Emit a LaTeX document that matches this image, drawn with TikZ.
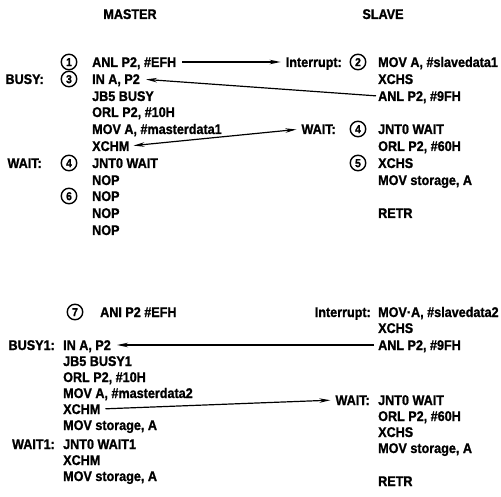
\documentclass[tikz,border=0pt]{standalone}
\usepackage{fontspec}
\newfontfamily\codefont{Liberation Sans}[FakeStretch=0.9,FakeBold=1.2]
\usetikzlibrary{arrows.meta}
\tikzstyle{every node}=[anchor=west,inner sep=0pt,text height=10pt,text depth=0pt,font=\codefont\bfseries\fontsize{14}{16}\selectfont]
\tikzstyle{num}=[draw=black,circle,line width=1.4pt,anchor=center,minimum size=15.5pt,text height=8.3pt,font=\codefont\bfseries\fontsize{11.5}{13}\selectfont]
\tikzstyle{lbl}=[anchor=east]
\tikzstyle{link}=[line width=1.2pt,-{Stealth[length=11pt,width=4.5pt]}]
\tikzstyle{bothlink}=[line width=1.2pt,{Stealth[length=11pt,width=4.5pt]}-{Stealth[length=11pt,width=4.5pt]}]

\begin{document}
\begin{tikzpicture}[x=1pt,y=-1pt]
  \useasboundingbox (0,0) rectangle (501,497);
  \node[anchor=center] (master) at (130,14) {MASTER};
  \node[anchor=center] (slave) at (383,14) {SLAVE};

  \node[num] (n1) at (69,62) {1};
  \node (m1) at (92,62) {ANL P2, \#EFH};
  \node[lbl] (busy) at (44,79) {BUSY:};
  \node[num] (n3) at (69,79) {3};
  \node (m2) at (92,79) {IN A, P2};
  \node (m3) at (92,96) {JB5 BUSY};
  \node (m4) at (92,112) {ORL P2, \#10H};
  \node (m5) at (92,129) {MOV A, \#masterdata1};
  \node (m6) at (92,146) {XCHM};
  \node[lbl] (wait) at (42,163) {WAIT:};
  \node[num] (n4) at (69,163) {4};
  \node (m7) at (92,163) {JNT0 WAIT};
  \node (m8) at (92,180) {NOP};
  \node[num] (n6) at (69,196) {6};
  \node (m9) at (92,196) {NOP};
  \node (m10) at (92,213) {NOP};
  \node (m11) at (92,230) {NOP};

  \node[lbl] (intr) at (342,62) {Interrupt:};
  \node[num] (n2) at (358,62) {2};
  \node (s1) at (378,62) {MOV A, \#slavedata1};
  \node (s2) at (378,79) {XCHS};
  \node (s3) at (378,96) {ANL P2, \#9FH};
  \node[lbl] (swait) at (336,129) {WAIT:};
  \node[num] (n4s) at (358,129) {4};
  \node (s4) at (378,129) {JNT0 WAIT};
  \node (s5) at (378,146) {ORL P2, \#60H};
  \node[num] (n5) at (358,163) {5};
  \node (s6) at (378,163) {XCHS};
  \node (s7) at (378,180) {MOV storage, A};
  \node (s8) at (378,213) {RETR};

  \draw[link,shorten <=6pt,shorten >=5pt] (m1.east) -- (intr.west);
  \draw[link,shorten <=2pt,shorten >=6pt] (s3.west) -- (m2.east);
  \draw[bothlink,shorten <=4pt,shorten >=5pt] (m6.east) -- (swait.west);

  \node[num] (n7) at (75,312) {7};
  \node (b1) at (100,312) {ANI P2 \#EFH};
  \node[lbl] (busy1) at (55,345) {BUSY1:};
  \node (b2) at (63,345) {IN A, P2};
  \node (b3) at (63,361) {JB5 BUSY1};
  \node (b4) at (63,377) {ORL P2, \#10H};
  \node (b5) at (63,393) {MOV A, \#masterdata2};
  \node (b6) at (63,409) {XCHM};
  \node (b7) at (63,425) {MOV storage, A};
  \node[lbl] (wait1) at (55,444) {WAIT1:};
  \node (b8) at (63,444) {JNT0 WAIT1};
  \node (b9) at (63,460) {XCHM};
  \node (b10) at (63,476) {MOV storage, A};

  \node[lbl] (intr2) at (371,312) {Interrupt:};
  \node (t1) at (378,312) {MOV·A, \#slavedata2};
  \node (t2) at (378,328) {XCHS};
  \node (t3) at (378,345) {ANL P2, \#9FH};
  \node[lbl] (twait) at (370,400) {WAIT:};
  \node (t4) at (378,400) {JNT0 WAIT};
  \node (t5) at (378,416) {ORL P2, \#60H};
  \node (t6) at (378,432) {XCHS};
  \node (t7) at (378,448) {MOV storage, A};
  \node (t8) at (378,481) {RETR};

  \draw[link,shorten <=4pt,shorten >=6pt] (t3.west) -- (b2.east);
  \draw[link,shorten <=5pt,shorten >=5pt] (b6.east) -- (twait.west);
\end{tikzpicture}
\end{document}
